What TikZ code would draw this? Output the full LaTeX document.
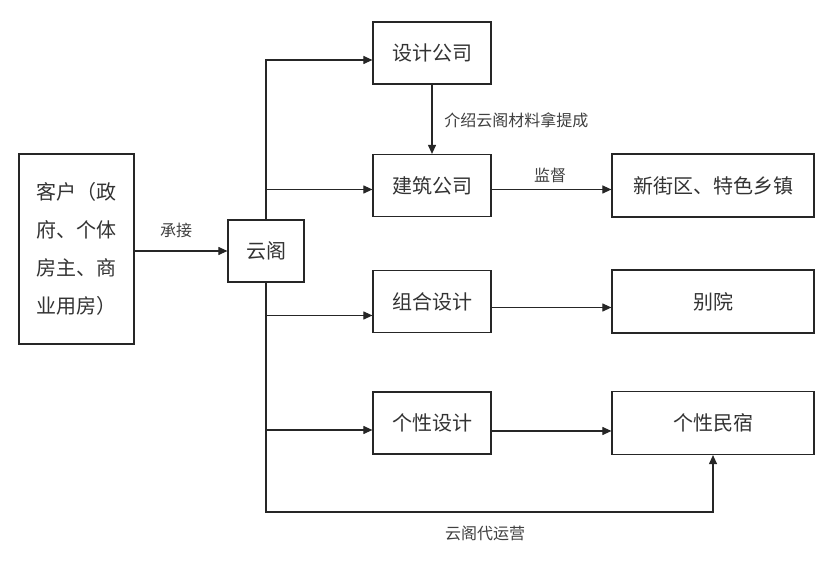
\documentclass[tikz,border=0pt]{standalone}
\usepackage{fontspec}
\setmainfont{Noto Sans CJK SC}
\usetikzlibrary{arrows.meta}
\tikzset{
  ybox/.style={draw=black!85, line width=0.6pt, fill=white, inner sep=2pt,
               align=center, font=\fontsize{10}{19}\selectfont, text=black!80},
  ysmall/.style={ybox, minimum width=59pt, minimum height=31pt},
  ywide/.style={ybox, minimum width=101pt, minimum height=31.5pt},
  yarrow/.style={-{Triangle[length=4.5pt,width=4pt]}, draw=black!85,
                 line width=0.55pt},
  ylabel/.style={font=\fontsize{8}{10}\selectfont, text=black!75, inner sep=1pt},
}
\begin{document}
\begin{tikzpicture}[x=0.5pt,y=-0.5pt]
\fill[white] (0,0) rectangle (840,565);
\useasboundingbox (0,0) rectangle (840,565);
\node[ybox,align=left,minimum width=57.5pt,minimum height=95pt] (kehu) at (76.5,249)
  {客户（政\\府、个体\\房主、商\\业用房）};
\node[ybox,minimum width=38pt,minimum height=31pt] (yunge) at (266,251) {云阁};
\node[ysmall] (sheji) at (432,53) {设计公司};
\node[ysmall] (jianzhu) at (432,185.5) {建筑公司};
\node[ysmall] (zuhe) at (432,301.5) {组合设计};
\node[ysmall] (gxsj) at (432,423) {个性设计};
\node[ywide] (xinjie) at (713,185.5) {新街区、特色乡镇};
\node[ywide] (bieyuan) at (713,301.5) {别院};
\node[ywide] (minsu) at (713,423) {个性民宿};
% branch points on the trunk
\coordinate (bj) at ([yshift=-2pt]jianzhu.west -| yunge.north);
\coordinate (bz) at ([yshift=-7pt]zuhe.west -| yunge.south);
\coordinate (bg) at ([yshift=-3.5pt]gxsj.west -| yunge.south);
\coordinate (low) at (266,512);
% connectors
\draw[yarrow] (kehu.east |- yunge.west) -- (yunge.west);
\draw[yarrow] (yunge.north) |- ([yshift=-3.5pt]sheji.west);
\draw[yarrow] (bj) -- (bj -| jianzhu.west);
\draw[yarrow] (yunge.south) -- (low) -| (minsu.south);
\draw[yarrow] (bz) -- (bz -| zuhe.west);
\draw[yarrow] (bg) -- (bg -| gxsj.west);
\draw[yarrow] (sheji.south) -- (jianzhu.north);
\draw[yarrow] ([yshift=-2pt]jianzhu.east) -- ([yshift=-2pt]xinjie.west);
\draw[yarrow] ([yshift=-3pt]zuhe.east) -- ([yshift=-3pt]bieyuan.west);
\draw[yarrow] ([yshift=-4pt]gxsj.east) -- ([yshift=-4pt]minsu.west);
% labels
\node[ylabel] (chengjie) at (176,230) {承接};
\node[ylabel,anchor=west] (jieshao) at (442,120) {介绍云阁材料拿提成};
\node[ylabel] (jiandu) at (550,175) {监督};
\node[ylabel] (daiyy) at (485,533) {云阁代运营};
\end{tikzpicture}
\end{document}
